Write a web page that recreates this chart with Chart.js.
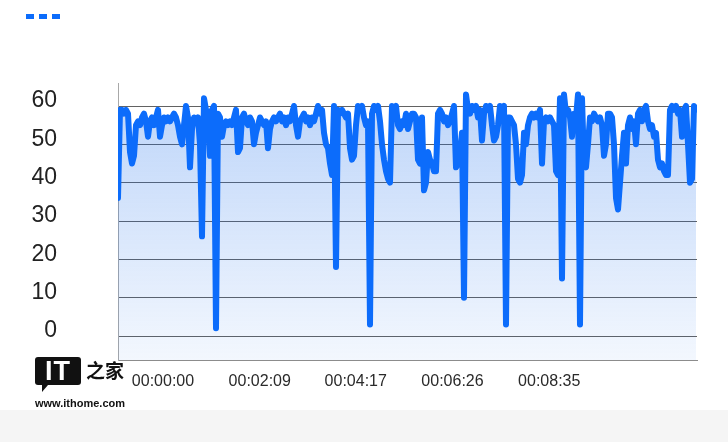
<!DOCTYPE html>
<html>
<head>
<meta charset="utf-8">
<script src="https://cdn.jsdelivr.net/npm/chart.js@4.4.1/dist/chart.umd.min.js"></script>
<style>
  html, body { margin: 0; padding: 0; background: #fff; width: 728px; height: 442px; overflow: hidden; }
  #wrap { position: relative; width: 728px; height: 442px; }
  #band { position: absolute; left: 0; top: 410px; width: 728px; height: 32px; background: #f5f5f5; }
  canvas { position: absolute; left: 0; top: 0; }
  .logo-box { position: absolute; left: 35px; top: 357px; width: 46px; height: 28px; background: #111; border-radius: 3px;
    color: #fff; font: bold 27px "Liberation Sans", Arial, sans-serif; line-height: 28px; text-align: center; letter-spacing: 1px; }
  .logo-tail { position: absolute; left: 42px; top: 385px; width: 0; height: 0; border-left: 6px solid #111; border-bottom: 7px solid transparent; }
  .logo-cn { position: absolute; left: 86px; top: 355px; font: bold 19px "Noto Sans CJK SC", sans-serif; color: #111; line-height: 30px; }
  .logo-url { position: absolute; left: 35px; top: 397px; font: bold 11px "Liberation Sans", Arial, sans-serif; color: #111; line-height: 13px; }
</style>
</head>
<body>
<div id="wrap">
  <div id="band"></div>
  <canvas id="c" width="728" height="442"></canvas>
  <div class="logo-box">IT</div>
  <div class="logo-tail"></div>
  <div class="logo-cn">之家</div>
  <div class="logo-url">www.ithome.com</div>
</div>
<script>
// ---- data ----
const startSeconds = -60;        // time of first sample
const stepSeconds = 8 / 3;       // sampling interval
const axisMaxSeconds = 712;
const fps = [
  36,59,59,58,59,58,48,45,47,55,
  56,55,57,58,56,52,56,57,55,57,
  59,52,55,57,56,57,56,57,58,57,
  55,52,50,55,60,57,44,54,57,56,
  57,50,26,62,59,58,47,59,60,2,
  58,57,52,55,56,55,56,55,57,59,
  48,49,57,58,56,55,57,56,50,53,
  55,57,56,55,56,49,54,56,57,56,
  57,58,56,57,55,57,56,58,60,55,
  52,56,57,58,56,57,55,57,56,58,
  60,58,59,53,50,49,45,42,60,18,
  59,58,59,58,57,58,49,46,47,55,
  60,59,60,57,55,56,3,58,60,59,
  60,56,50,46,43,41,40,60,59,60,
  55,54,56,55,58,54,56,58,58,57,
  46,45,57,38,40,48,46,45,43,43,
  58,59,58,56,57,55,56,58,60,44,
  45,48,53,10,63,59,58,60,59,60,
  57,59,51,58,60,59,60,55,51,52,
  55,60,59,60,3,57,57,56,55,50,
  41,40,42,53,50,55,57,58,57,58,
  57,59,45,56,57,56,57,56,55,43,
  42,62,15,63,58,59,57,52,58,57,
  63,3,62,45,44,50,57,56,58,57,
  56,57,55,47,50,58,58,57,50,36,
  33,40,47,53,45,55,57,54,56,50,
  58,59,56,59,60,56,54,55,52,53,
  46,44,45,43,42,42,59,60,59,60,
  58,59,52,59,60,50,40,41,60,59
];
const xTickSeconds = [0, 129, 257, 386, 515];
const xTickLabels = ['00:00:00', '00:02:09', '00:04:17', '00:06:26', '00:08:35'];
const yTickValues = [0, 10, 20, 30, 40, 50, 60];

const LINE_COLOR = '#0c6cfb';

const points = fps.map((v, i) => ({ x: startSeconds + i * stepSeconds, y: v }));

const dashLegend = {
  id: 'dashLegend',
  afterDraw(chart) {
    const ctx = chart.ctx;
    const ds = chart.data.datasets[0];
    ctx.save();
    ctx.strokeStyle = ds.borderColor;
    ctx.lineWidth = 5;
    ctx.lineCap = 'butt';
    ctx.setLineDash([8, 5]);
    ctx.beginPath();
    ctx.moveTo(26, 16.5);
    ctx.lineTo(60, 16.5);
    ctx.stroke();
    ctx.restore();
  }
};

new Chart(document.getElementById('c'), {
  type: 'line',
  data: {
    datasets: [{
      label: 'FPS',
      data: points,
      borderColor: LINE_COLOR,
      borderWidth: 6,
      borderJoinStyle: 'round',
      borderCapStyle: 'round',
      pointRadius: 0,
      tension: 0,
      fill: 'start',
      backgroundColor: (c) => {
        const area = c.chart.chartArea;
        if (!area) return 'rgba(20,105,235,0.15)';
        const g = c.chart.ctx.createLinearGradient(0, area.top, 0, area.bottom);
        g.addColorStop(0, 'rgba(20,105,235,0.29)');
        g.addColorStop(1, 'rgba(20,105,235,0.05)');
        return g;
      }
    }]
  },
  options: {
    responsive: false,
    animation: false,
    devicePixelRatio: 1,
    layout: { padding: { top: 83, left: 0, right: 31, bottom: 0 } },
    plugins: { legend: { display: false }, tooltip: { enabled: false } },
    scales: {
      x: {
        type: 'linear',
        min: startSeconds,
        max: axisMaxSeconds,
        afterBuildTicks: (s) => { s.ticks = xTickSeconds.map(v => ({ value: v })); },
        afterFit: (s) => { s.height = 82; },
        grid: { display: false },
        border: { display: true, color: '#8c8c8c', width: 1 },
        ticks: {
          autoSkip: false, maxRotation: 0, padding: 4,
          color: '#2a2a2a',
          font: { family: '"Liberation Sans", Arial, sans-serif', size: 16 },
          callback: (v) => { const i = xTickSeconds.indexOf(v); return i >= 0 ? xTickLabels[i] : ''; }
        }
      },
      y: {
        min: -6.26,
        max: 66,
        afterBuildTicks: (s) => { s.ticks = yTickValues.map(v => ({ value: v })); },
        afterFit: (s) => { s.width = 118; },
        grid: { color: '#626262', lineWidth: 1, drawTicks: false },
        border: { display: true, color: '#a8a8a8', width: 1 },
        ticks: {
          padding: 61, labelOffset: -5,
          color: '#222',
          font: { family: '"Liberation Sans", Arial, sans-serif', size: 23 }
        }
      }
    }
  },
  plugins: [dashLegend]
});
</script>
</body>
</html>
